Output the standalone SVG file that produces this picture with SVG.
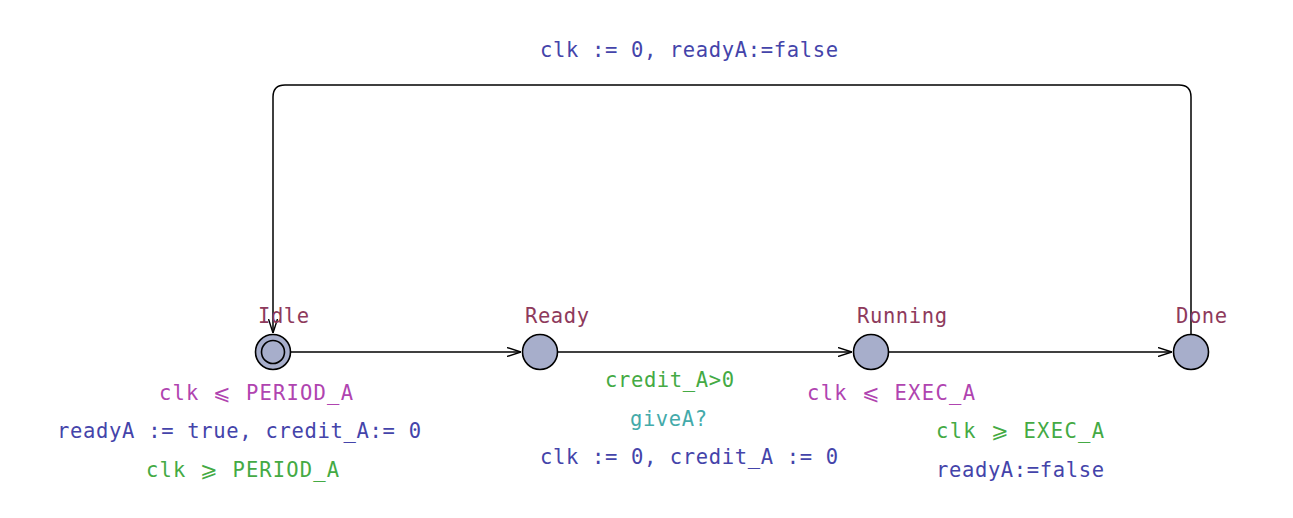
<svg xmlns="http://www.w3.org/2000/svg" width="1293" height="518" viewBox="0 0 1293 518">
<style>
text{font-family:"DejaVu Sans Mono","Liberation Mono",monospace;font-size:20.5px}
.nm{fill:#8e3a5c}.inv{fill:#b044b0}.grd{fill:#44aa44}.syn{fill:#44aaaa}.upd{fill:#4444aa}
.loc{fill:#a7aecb;stroke:#000;stroke-width:1.6}
.edge{fill:none;stroke:#000;stroke-width:1.5}
</style>
<defs>
<marker id="arr" viewBox="0 0 14 10" refX="14" refY="5" markerWidth="14" markerHeight="10" markerUnits="userSpaceOnUse" orient="auto">
<path d="M0,0.5 L14,5 L0,9.5" fill="none" stroke="#000" stroke-width="1.4"/>
</marker>
</defs>
<rect width="1293" height="518" fill="#fff"/>
<g id="connectors">
<path class="edge" d="M291,352 H521" marker-end="url(#arr)"/>
<path class="edge" d="M558,352 H852" marker-end="url(#arr)"/>
<path class="edge" d="M889,352 H1172" marker-end="url(#arr)"/>
<path class="edge" d="M1191,334 V97 Q1191,85 1179,85 H285 Q273,85 273,97 V333" marker-end="url(#arr)"/>
<text class="upd" x="540" y="57" textLength="298" lengthAdjust="spacing">clk := 0, readyA:=false</text>
<text class="grd" x="605" y="387" textLength="129" lengthAdjust="spacing">credit_A&gt;0</text>
<text class="syn" x="630" y="426" textLength="77" lengthAdjust="spacing">giveA?</text>
<text class="upd" x="540" y="464" textLength="298" lengthAdjust="spacing">clk := 0, credit_A := 0</text>
<text class="grd" x="146" y="477" textLength="193" lengthAdjust="spacing">clk ⩾ PERIOD_A</text>
<text class="upd" x="57" y="438" textLength="364" lengthAdjust="spacing">readyA := true, credit_A:= 0</text>
<text class="grd" x="936" y="438" textLength="168" lengthAdjust="spacing">clk ⩾ EXEC_A</text>
<text class="upd" x="936" y="477" textLength="168" lengthAdjust="spacing">readyA:=false</text>
</g>
<g id="Idle">
<circle class="loc" cx="273" cy="352" r="17.5"/>
<circle fill="none" stroke="#000" stroke-width="1.6" cx="273" cy="352" r="11.5"/>
<text class="nm" x="258" y="323" textLength="51" lengthAdjust="spacing">Idle</text>
<text class="inv" x="159" y="400" textLength="194" lengthAdjust="spacing">clk ⩽ PERIOD_A</text>
</g>
<g id="Ready">
<circle class="loc" cx="540" cy="352" r="17.5"/>
<text class="nm" x="525" y="323" textLength="64" lengthAdjust="spacing">Ready</text>
</g>
<g id="Running">
<circle class="loc" cx="871" cy="352" r="17.5"/>
<text class="nm" x="857" y="323" textLength="90" lengthAdjust="spacing">Running</text>
<text class="inv" x="807" y="400" textLength="168" lengthAdjust="spacing">clk ⩽ EXEC_A</text>
</g>
<g id="Done">
<circle class="loc" cx="1191" cy="352" r="17.5"/>
<text class="nm" x="1176" y="323" textLength="51" lengthAdjust="spacing">Done</text>
</g>
</svg>
